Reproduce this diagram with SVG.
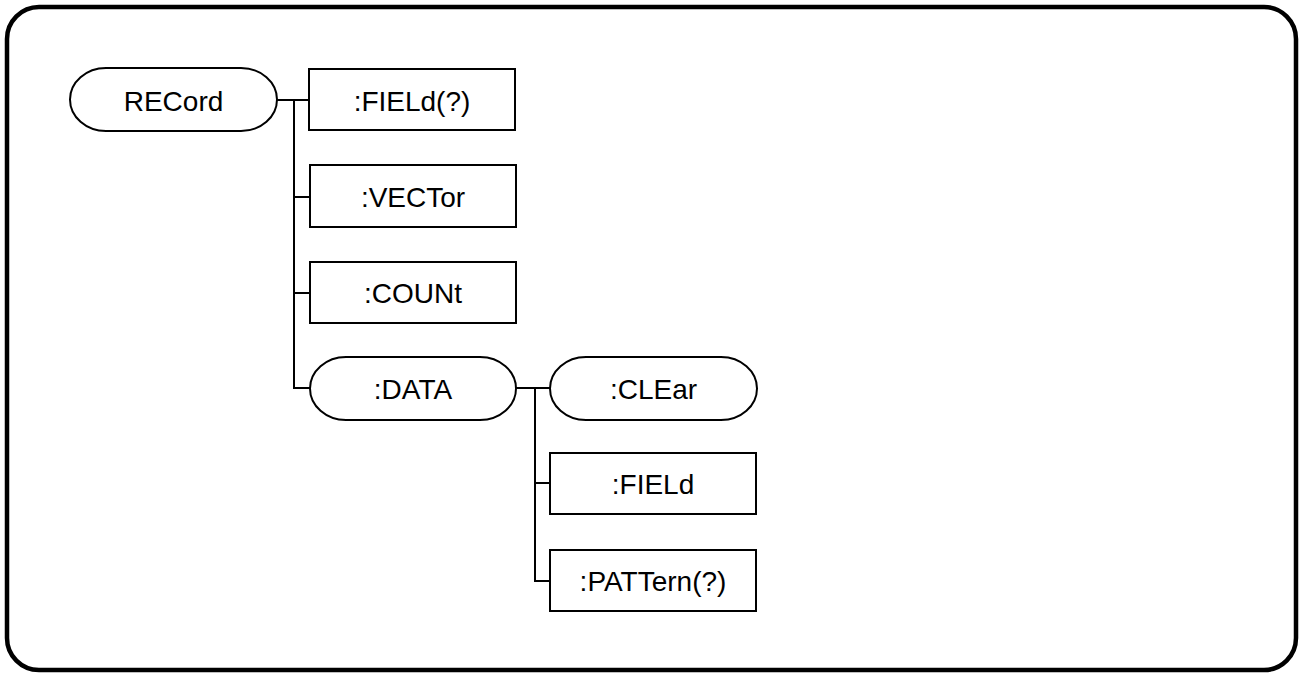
<svg xmlns="http://www.w3.org/2000/svg" width="1301" height="673" viewBox="0 0 1301 673">
  <style>
    .frame { fill: #ffffff; stroke: #000000; stroke-width: 4.5; }
    .node { fill: #ffffff; stroke: #000000; stroke-width: 2; }
    .label { font-family: "Liberation Sans", Arial, sans-serif; font-size: 28px; fill: #000000; text-anchor: middle; }
    .wire { fill: none; stroke: #000000; stroke-width: 2; }
  </style>

  <rect class="frame" x="7" y="7" width="1289" height="663" rx="32" ry="32"/>

  <g id="connectors">
    <!-- RECord branch -->
    <path class="wire" d="M277 100 H309"/>
    <path class="wire" d="M294 100 V388 H310"/>
    <path class="wire" d="M294 197 H310"/>
    <path class="wire" d="M294 293 H310"/>
    <!-- DATA branch -->
    <path class="wire" d="M516 388 H550"/>
    <path class="wire" d="M535 388 V581 H550"/>
    <path class="wire" d="M535 483 H550"/>
  </g>

  <g id="node-record">
    <rect class="node" x="70" y="68" width="207" height="63" rx="36" ry="31.5"/>
    <text class="label" x="173.5" y="111">RECord</text>
  </g>
  <g id="node-field-q">
    <rect class="node" x="309" y="69" width="206" height="61"/>
    <text class="label" x="412" y="111">:FIELd(?)</text>
  </g>
  <g id="node-vector">
    <rect class="node" x="310" y="165" width="206" height="62"/>
    <text class="label" x="413" y="207">:VECTor</text>
  </g>
  <g id="node-count">
    <rect class="node" x="310" y="262" width="206" height="61"/>
    <text class="label" x="413" y="303">:COUNt</text>
  </g>
  <g id="node-data">
    <rect class="node" x="310" y="357" width="206" height="63" rx="36" ry="31.5"/>
    <text class="label" x="413" y="399">:DATA</text>
  </g>
  <g id="node-clear">
    <rect class="node" x="550" y="357" width="207" height="63" rx="36" ry="31.5"/>
    <text class="label" x="653.5" y="399">:CLEar</text>
  </g>
  <g id="node-field">
    <rect class="node" x="550" y="453" width="206" height="61"/>
    <text class="label" x="653" y="494">:FIELd</text>
  </g>
  <g id="node-pattern">
    <rect class="node" x="550" y="550" width="206" height="61"/>
    <text class="label" x="653" y="591">:PATTern(?)</text>
  </g>
</svg>
